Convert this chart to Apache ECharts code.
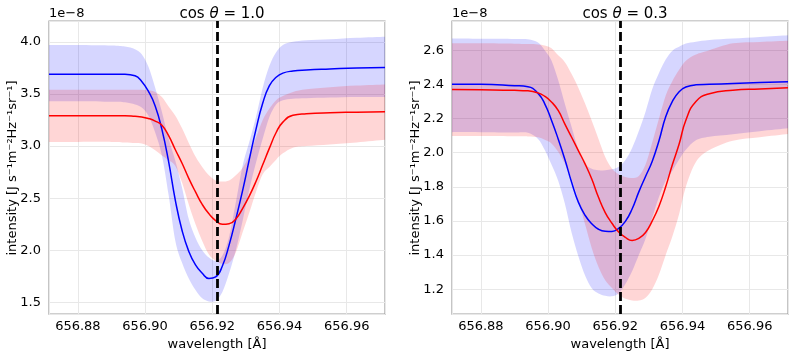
<!DOCTYPE html>
<html>
<head>
<meta charset="utf-8">
<script src="https://cdn.jsdelivr.net/npm/echarts@6/dist/echarts.min.js"></script>
<style>
html,body{margin:0;padding:0;background:#fff;}
#chart{width:793px;height:356px;}
</style>
</head>
<body>
<div id="chart"></div>
<script>
// ---- data (intensity in units of 1e-8 J s^-1 m^-2 Hz^-1 sr^-1) ----
const wavelength = [656.8714, 656.880, 656.890, 656.894, 656.897, 656.899, 656.901, 656.903, 656.905, 656.907,
  656.909, 656.911, 656.913, 656.915, 656.917, 656.919, 656.921, 656.923, 656.925, 656.927,
  656.929, 656.931, 656.933, 656.935, 656.937, 656.939, 656.941, 656.944, 656.948, 656.955,
  656.963, 656.9714];
const lineCenter = 656.9214;
const titles = ['1.0', '0.3'];

// cos θ = 1.0
const blueMu10 = [3.69,3.69,3.69,3.69,3.675,3.62,3.525,3.385,3.16,2.85,2.48,2.19,1.99,1.86,1.78,1.73,1.745,1.85,2.05,2.30,2.57,2.87,3.16,3.41,3.58,3.66,3.70,3.72,3.73,3.74,3.75,3.755];
const blueHi10 = [3.97,3.97,3.965,3.955,3.93,3.88,3.76,3.56,3.33,3.07,2.86,2.60,2.30,2.12,2.00,1.93,1.90,1.95,2.13,2.46,2.81,3.04,3.28,3.56,3.77,3.90,3.97,4.00,4.015,4.025,4.04,4.05];
const blueLo10 = [3.43,3.43,3.425,3.42,3.40,3.37,3.29,3.13,2.91,2.53,2.09,1.88,1.73,1.62,1.54,1.51,1.515,1.60,1.78,2.00,2.28,2.58,2.84,3.07,3.28,3.40,3.44,3.455,3.46,3.465,3.47,3.47];
const redMu10 = [3.29,3.29,3.29,3.29,3.285,3.28,3.265,3.24,3.20,3.10,2.965,2.835,2.69,2.56,2.44,2.35,2.285,2.25,2.255,2.30,2.40,2.52,2.66,2.82,2.98,3.13,3.23,3.295,3.31,3.32,3.325,3.33];
const redHi10 = [3.54,3.54,3.54,3.54,3.54,3.54,3.535,3.52,3.47,3.38,3.29,3.17,3.03,2.90,2.80,2.72,2.67,2.66,2.67,2.72,2.79,2.91,3.08,3.25,3.36,3.44,3.48,3.52,3.545,3.565,3.58,3.59];
const redLo10 = [3.04,3.04,3.04,3.035,3.03,3.025,3.00,2.96,2.91,2.865,2.81,2.65,2.44,2.25,2.09,1.96,1.90,1.87,1.88,1.98,2.17,2.36,2.56,2.73,2.80,2.87,2.93,2.985,3.00,3.015,3.035,3.06];

// cos θ = 0.3
const blueMu03 = [2.40,2.40,2.392,2.386,2.347,2.286,2.19,2.08,1.96,1.826,1.71,1.633,1.583,1.551,1.539,1.538,1.556,1.597,1.67,1.77,1.86,1.95,2.07,2.21,2.30,2.357,2.384,2.397,2.40,2.405,2.41,2.415];
const blueHi03 = [2.668,2.667,2.666,2.664,2.645,2.60,2.54,2.425,2.285,2.15,2.02,1.935,1.905,1.896,1.897,1.902,1.917,1.956,2.027,2.126,2.24,2.373,2.467,2.545,2.597,2.62,2.639,2.65,2.66,2.668,2.678,2.688];
const blueLo03 = [2.12,2.12,2.118,2.116,2.08,2.015,1.93,1.835,1.70,1.53,1.393,1.28,1.205,1.175,1.161,1.158,1.175,1.23,1.305,1.40,1.495,1.62,1.74,1.835,1.894,1.96,2.017,2.072,2.093,2.108,2.125,2.142];
const redMu03 = [2.37,2.368,2.365,2.362,2.35,2.33,2.297,2.247,2.167,2.09,2.012,1.934,1.845,1.738,1.649,1.586,1.535,1.503,1.485,1.497,1.532,1.60,1.686,1.80,1.93,2.05,2.19,2.30,2.345,2.366,2.373,2.38];
const redHi03 = [2.64,2.64,2.638,2.636,2.634,2.628,2.612,2.57,2.53,2.46,2.38,2.287,2.186,2.08,1.975,1.907,1.873,1.857,1.851,1.863,1.93,2.06,2.20,2.335,2.42,2.485,2.538,2.575,2.60,2.64,2.648,2.655];
const redLo03 = [2.097,2.097,2.096,2.095,2.09,2.075,2.054,2.005,1.935,1.845,1.72,1.58,1.44,1.33,1.252,1.207,1.167,1.144,1.134,1.134,1.15,1.20,1.286,1.40,1.51,1.64,1.80,1.945,2.015,2.07,2.09,2.109];

const xRange = [656.8714, 656.9714];
const yRange = [[1.388, 4.2], [1.054, 2.771]];
const xTickStep = 0.02;
const yTickStep = [0.5, 0.2];

// ---- chart ----
const FONT = 'DejaVu Sans';
const Y_NAME = 'intensity [J s\u207B\u00B9m\u207B\u00B2Hz\u207B\u00B9sr\u207B\u00B9]';
const pairs = (ys) => wavelength.map((x, i) => [x, ys[i]]);
const onStep = (v, step) => Math.abs(v / step - Math.round(v / step)) < 1e-6;
const f = (n) => n.toFixed(2);

// smooth (Catmull-Rom -> Bezier) path through pixel points; 'move' starts a new subpath
function curvePath(p, move) {
  let d = (move ? 'M' : 'L') + f(p[0][0]) + ' ' + f(p[0][1]);
  for (let i = 0; i < p.length - 1; i++) {
    const p0 = p[Math.max(i - 1, 0)], p1 = p[i], p2 = p[i + 1], p3 = p[Math.min(i + 2, p.length - 1)];
    const c1 = [p1[0] + (p2[0] - p0[0]) / 6, p1[1] + (p2[1] - p0[1]) / 6];
    const c2 = [p2[0] - (p3[0] - p1[0]) / 6, p2[1] - (p3[1] - p1[1]) / 6];
    d += 'C' + f(c1[0]) + ' ' + f(c1[1]) + ' ' + f(c2[0]) + ' ' + f(c2[1]) + ' ' + f(p2[0]) + ' ' + f(p2[1]);
  }
  return d;
}

function band(idx, hi, lo, color) {
  return {
    type: 'custom', xAxisIndex: idx, yAxisIndex: idx, z: 1, silent: true, clip: true,
    data: pairs(hi),
    renderItem: function (params, api) {
      if (params.dataIndex !== 0) return null;
      const up = wavelength.map((x, i) => api.coord([x, hi[i]]));
      const dn = wavelength.map((x, i) => api.coord([x, lo[i]])).reverse();
      const d = curvePath(up, true) + curvePath(dn, false) + 'Z';
      return { type: 'path', shape: { pathData: d }, style: { fill: color, stroke: null } };
    }
  };
}
function line(idx, ys, color, withCenter) {
  const s = {
    type: 'line', xAxisIndex: idx, yAxisIndex: idx, z: 2, data: pairs(ys),
    showSymbol: false, smooth: 0.5, silent: true, clip: true,
    lineStyle: { color: color, width: 1.5 }
  };
  if (withCenter) {
    s.markLine = {
      silent: true, symbol: ['none', 'none'], label: { show: false }, z: 5, precision: 6,
      lineStyle: { color: '#000', width: 2.8, type: [9, 4] },
      data: [{ xAxis: lineCenter }]
    };
  }
  return s;
}

const grids = [
  { left: 49, top: 21, width: 336, height: 294 },
  { left: 452, top: 21, width: 336, height: 294 }
];

const option = {
  animation: false,
  backgroundColor: '#fff',
  textStyle: { fontFamily: FONT },
  title: titles.map((t, i) => ({
    text: 'cos {i|θ} = ' + t,
    left: grids[i].left + grids[i].width / 2, top: 2, textAlign: 'center',
    textStyle: {
      fontFamily: FONT, fontSize: 15, fontWeight: 'normal', color: '#000',
      rich: { i: { fontFamily: FONT, fontSize: 15, fontStyle: 'italic', color: '#000' } }
    }
  })),
  graphic: [].concat(
    grids.map(g => ({
      type: 'text', left: g.left, top: 7.5,
      style: { text: '1e\u22128', fontFamily: FONT, fontSize: 13, fill: '#000' }
    })),
    grids.map(g => ({
      type: 'text', x: g.left - 36, y: g.top + g.height / 2, rotation: Math.PI / 2,
      style: { text: Y_NAME, fontFamily: FONT, fontSize: 13, fill: '#000', align: 'center', verticalAlign: 'middle' }
    }))
  ),
  grid: grids.map(g => Object.assign({ show: true, borderColor: '#a0a0a0', borderWidth: 1.2 }, g)),
  xAxis: [0, 1].map(i => ({
    type: 'value', gridIndex: i, min: xRange[0], max: xRange[1], splitNumber: 5,
    axisLine: { show: false }, axisTick: { show: false },
    axisLabel: {
      fontFamily: FONT, fontSize: 13, color: '#000', margin: 6,
      formatter: v => onStep(v, xTickStep) ? v.toFixed(2) : ''
    },
    splitLine: { show: true, lineStyle: { color: '#e8e8e8', width: 1 } },
    name: 'wavelength [Å]', nameLocation: 'middle', nameGap: 21,
    nameTextStyle: { fontFamily: FONT, fontSize: 13, color: '#000' }
  })),
  yAxis: [0, 1].map(i => ({
    type: 'value', gridIndex: i, min: yRange[i][0], max: yRange[i][1], splitNumber: i === 0 ? 5 : 8,
    axisLine: { show: false }, axisTick: { show: false },
    axisLabel: {
      fontFamily: FONT, fontSize: 13, color: '#000', margin: 8,
      formatter: v => onStep(v, yTickStep[i]) ? v.toFixed(1) : ''
    },
    splitLine: { show: true, lineStyle: { color: '#e8e8e8', width: 1 } }
  })),
  series: [
    band(0, blueHi10, blueLo10, 'rgba(0,0,255,0.16)'),
    band(0, redHi10, redLo10, 'rgba(255,0,0,0.16)'),
    line(0, blueMu10, '#0000ff', false),
    line(0, redMu10, '#ff0000', true),
    band(1, blueHi03, blueLo03, 'rgba(0,0,255,0.16)'),
    band(1, redHi03, redLo03, 'rgba(255,0,0,0.16)'),
    line(1, blueMu03, '#0000ff', false),
    line(1, redMu03, '#ff0000', true)
  ]
};

const chart = echarts.init(document.getElementById('chart'), null, { renderer: 'canvas' });
chart.setOption(option);
</script>
</body>
</html>
